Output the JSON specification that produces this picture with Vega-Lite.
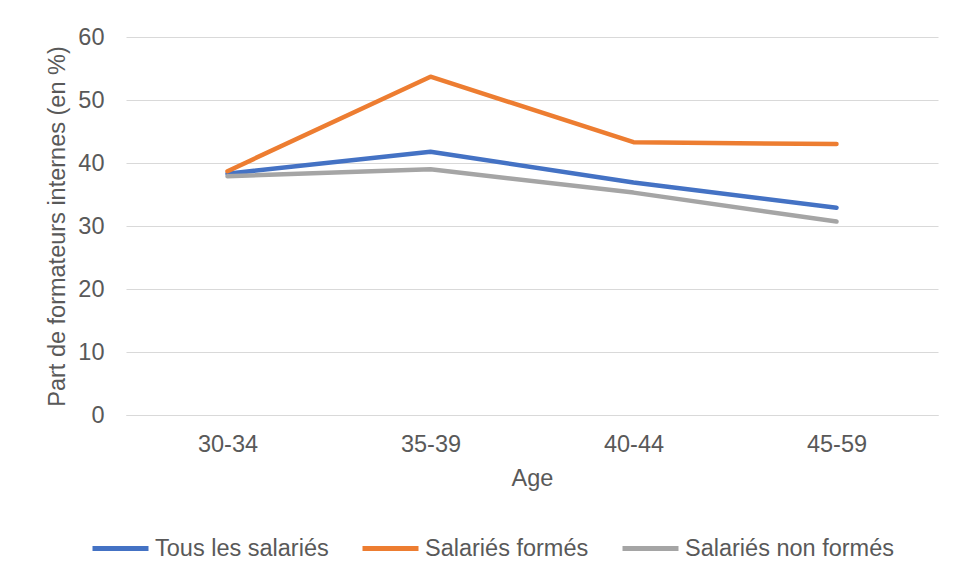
{
  "$schema": "https://vega.github.io/schema/vega-lite/v6.json",
  "width": 812,
  "height": 378,
  "autosize": {"type": "none"},
  "padding": {"left": 126, "top": 37, "right": 18, "bottom": 166},
  "background": "white",
  "config": {
    "font": "Liberation Sans",
    "view": {"stroke": null},
    "axis": {"labelColor": "#595959", "titleColor": "#595959", "labelFontSize": 23.5, "titleFontSize": 23.5, "titleFontWeight": "normal"},
    "legend": {"labelColor": "#595959", "labelFontSize": 23.5, "labelLimit": 0}
  },
  "data": {
    "values": [
      {"age": "30-34", "serie": "Tous les salariés", "v": 38.3},
      {"age": "35-39", "serie": "Tous les salariés", "v": 41.8},
      {"age": "40-44", "serie": "Tous les salariés", "v": 36.9},
      {"age": "45-59", "serie": "Tous les salariés", "v": 32.9},
      {"age": "30-34", "serie": "Salariés formés", "v": 38.7},
      {"age": "35-39", "serie": "Salariés formés", "v": 53.7},
      {"age": "40-44", "serie": "Salariés formés", "v": 43.3},
      {"age": "45-59", "serie": "Salariés formés", "v": 43.0},
      {"age": "30-34", "serie": "Salariés non formés", "v": 37.9},
      {"age": "35-39", "serie": "Salariés non formés", "v": 39.0},
      {"age": "40-44", "serie": "Salariés non formés", "v": 35.3},
      {"age": "45-59", "serie": "Salariés non formés", "v": 30.7}
    ]
  },
  "mark": {"type": "line", "strokeWidth": 4.5, "strokeCap": "round", "strokeJoin": "round"},
  "encoding": {
    "x": {
      "field": "age", "type": "ordinal", "title": "Age",
      "scale": {"type": "point", "padding": 0.5},
      "axis": {"labelAngle": 0, "ticks": false, "domain": true, "domainColor": "#D9D9D9", "grid": false, "labelPadding": 17, "titlePadding": 11}
    },
    "y": {
      "field": "v", "type": "quantitative", "title": "Part de formateurs internes (en %)",
      "scale": {"domain": [0, 60], "nice": false},
      "axis": {"values": [0, 10, 20, 30, 40, 50, 60], "ticks": false, "domain": false, "gridColor": "#D9D9D9", "gridWidth": 1, "labelPadding": 22, "titlePadding": 8}
    },
    "color": {
      "field": "serie", "type": "nominal", "title": null,
      "scale": {"domain": ["Tous les salariés", "Salariés formés", "Salariés non formés"], "range": ["#4472C4", "#ED7D31", "#A5A5A5"]},
      "legend": {"orient": "none", "legendX": -36, "legendY": 481, "direction": "horizontal", "symbolType": "stroke", "symbolSize": 3136, "symbolStrokeWidth": 5, "labelOffset": 4, "columnPadding": 23}
    }
  }
}
